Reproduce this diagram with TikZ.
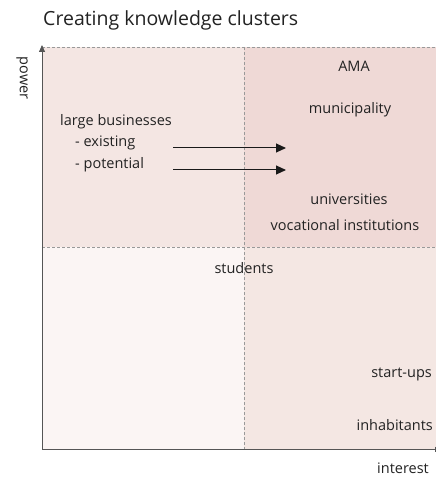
\documentclass[tikz,border=0pt]{standalone}
\usepackage{fontspec}
\setmainfont{Open Sans}
\usetikzlibrary{arrows.meta, positioning}

\definecolor{quadA}{HTML}{F4E6E3}
\definecolor{quadB}{HTML}{EFD9D6}
\definecolor{quadC}{HTML}{FBF5F4}
\definecolor{quadD}{HTML}{F4E7E3}
\definecolor{axisgray}{HTML}{555555}
\definecolor{txtgray}{HTML}{222222}

\begin{document}
\begin{tikzpicture}[
  x=1pt, y=-1pt,
  lbl/.style   = {font=\fontsize{14.5}{17}\selectfont, text=txtgray, inner sep=0pt},
  title/.style = {font=\fontsize{19.5}{23}\selectfont, text=txtgray, inner sep=0pt},
  axis/.style  = {draw=axisgray, line width=0.8pt},
  grid/.style  = {draw=gray!80, dashed, dash pattern=on 3pt off 2pt, line width=0.6pt},
  arr/.style   = {-{Triangle[length=10pt, width=9pt]}, line width=1pt, draw=black!90},
]
\useasboundingbox (0,0) rectangle (437,478);

%-- Quadranten -----------------------------------------------------------
\fill[quadA] (42,47)  rectangle (244,247);
\fill[quadB] (244,47) rectangle (436,247);
\fill[quadC] (42,247) rectangle (244,449);
\fill[quadD] (244,247) rectangle (436,449);

\draw[grid] (42,47) -- (436,47);
\draw[grid] (42,247) -- (436,247);
\draw[grid] (244,47) -- (244,449);

%-- Achsen ---------------------------------------------------------------
\coordinate (origin) at (42,449);
\coordinate (ytop)   at (42,45);
\coordinate (xend)   at (436,449);
\draw[axis, -{Triangle[length=7pt, width=6pt]}] (origin) -- (ytop);
\draw[axis, -{Bar[width=5pt]}] (origin) -- (xend);

%-- Titel und Achsenbeschriftung ----------------------------------------
\node[title, anchor=west] (title) at (43,20) {Creating knowledge clusters};
\node[lbl, rotate=-90] (power) at (22,78) {power};
\node[lbl, anchor=east] (interest) at (429,468) {interest};

%-- Akteure --------------------------------------------------------------
\node[lbl] (ama)    at (354,66)  {AMA};
\node[lbl] (muni)   at (350,110) {municipality};
\node[lbl, anchor=west] (large) at (60,122) {large businesses};
\node[lbl, anchor=west] (exist) at (75,143) {- existing};
\node[lbl, anchor=west] (poten) at (75,165) {- potential};
\node[lbl] (uni)    at (349,199) {universities};
\node[lbl] (voc)    at (345,225) {vocational institutions};
\node[lbl] (stud)   at (244,268) {students};
\node[lbl, anchor=east] (start) at (432,374) {start-ups};
\node[lbl, anchor=east] (inhab) at (433,425) {inhabitants};

%-- Pfeile ---------------------------------------------------------------
\coordinate (existA) at (173,148);
\coordinate (existB) at (286,148);
\coordinate (potenA) at (173,170);
\coordinate (potenB) at (286,170);
\draw[arr] (existA) -- (existB);
\draw[arr] (potenA) -- (potenB);

\end{tikzpicture}
\end{document}
